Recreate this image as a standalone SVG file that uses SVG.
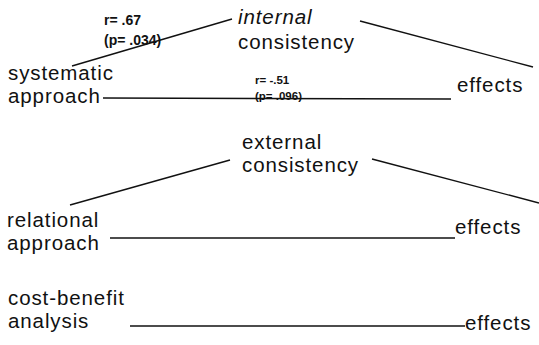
<svg xmlns="http://www.w3.org/2000/svg" width="539" height="345" viewBox="0 0 539 345">
<style>
.t{font-family:"Liberation Sans",Arial,sans-serif;font-size:20.5px;letter-spacing:0.9px;fill:#111}
.s{font-family:"Liberation Sans",Arial,sans-serif;font-size:14px;font-weight:bold;fill:#111}
.xs{font-family:"Liberation Sans",Arial,sans-serif;font-size:11.5px;font-weight:bold;fill:#111}
.c line{stroke:#111;stroke-width:1.4}
</style>
<rect width="539" height="345" fill="#fff"/>
<g class="c" id="connectors">
<line x1="72" y1="66" x2="232" y2="19"/>
<line x1="360" y1="21" x2="533" y2="67"/>
<line x1="103" y1="98" x2="451" y2="99"/>
<line x1="70" y1="205" x2="230" y2="160"/>
<line x1="372" y1="159" x2="539" y2="203"/>
<line x1="110" y1="238" x2="455" y2="238"/>
<line x1="130" y1="326" x2="465" y2="326"/>
</g>
<g id="labels">
<text class="s" x="104" y="25">r= .67<tspan x="104" y="45">(p= .034)</tspan></text>
<text class="xs" x="255" y="84">r= -.51<tspan x="255" y="100">(p= .096)</tspan></text>
</g>
<g id="internal"><text class="t" x="238" y="24"><tspan font-style="italic">internal</tspan><tspan x="238" y="49">consistency</tspan></text></g>
<g id="systematic"><text class="t" x="8" y="79.5">systematic<tspan x="8" y="102.5">approach</tspan></text></g>
<g id="effects1"><text class="t" x="457" y="92">effects</text></g>
<g id="external"><text class="t" x="242" y="148.5">external<tspan x="242" y="171.5">consistency</tspan></text></g>
<g id="relational"><text class="t" x="7" y="226.5">relational<tspan x="7" y="249.5">approach</tspan></text></g>
<g id="effects2"><text class="t" x="455" y="234">effects</text></g>
<g id="costbenefit"><text class="t" x="8" y="304.5">cost-benefit<tspan x="8" y="327.5">analysis</tspan></text></g>
<g id="effects3"><text class="t" x="465" y="330">effects</text></g>
</svg>
